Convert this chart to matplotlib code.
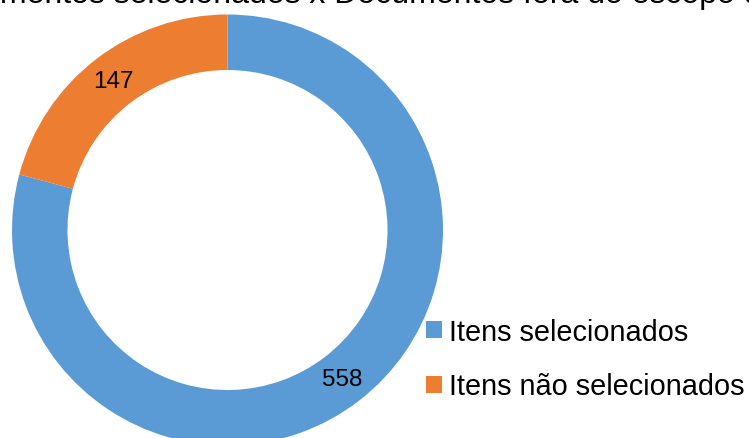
import matplotlib
matplotlib.use("Agg")
import matplotlib.pyplot as plt

plt.rcParams['font.family'] = ['Liberation Sans', 'DejaVu Sans']

# data
categorias = ["Itens selecionados", "Itens não selecionados"]
valores = [558, 147]
cores = ["#5B9BD5", "#ED7D31"]
titulo = "Documentos selecionados x Documentos fora do escopo da pesquisa"

W, H = 749, 439
fig = plt.figure(figsize=(W / 100, H / 100), dpi=100)
ax = fig.add_axes([0, 0, 1, 1])

total = sum(valores)
raio = 215.5
largura = 55.5
wedges, textos, autotextos = ax.pie(
    valores, colors=cores, startangle=90, counterclock=False,
    center=(227.5, H - 231), radius=raio,
    wedgeprops=dict(width=largura, linewidth=0),
    autopct=lambda p: "%d" % round(p * total / 100),
    pctdistance=(raio - largura / 2) / raio,
    textprops=dict(fontsize=17.5, color="black"))

ax.set_xlim(0, W)
ax.set_ylim(0, H)
ax.axis("off")

ax.legend(wedges, categorias, loc="center left",
          bbox_to_anchor=(426 / W, 1 - 360 / H), bbox_transform=fig.transFigure,
          frameon=False, fontsize=20.8, borderpad=0, borderaxespad=0,
          handlelength=0.55, handleheight=0.55, handletextpad=0.25,
          labelspacing=0.93)

# titulo cortado no topo da imagem
t = fig.text(0, 1 - 3.5 / H, titulo, fontsize=23, ha="left", va="baseline")
r = fig.canvas.get_renderer()
tmp = fig.text(0, 0, "Docu", fontsize=23)
w_docu = tmp.get_window_extent(r).width
tmp.remove()
t.set_x(-w_docu / W)

fig.savefig("out.png", dpi=100)
